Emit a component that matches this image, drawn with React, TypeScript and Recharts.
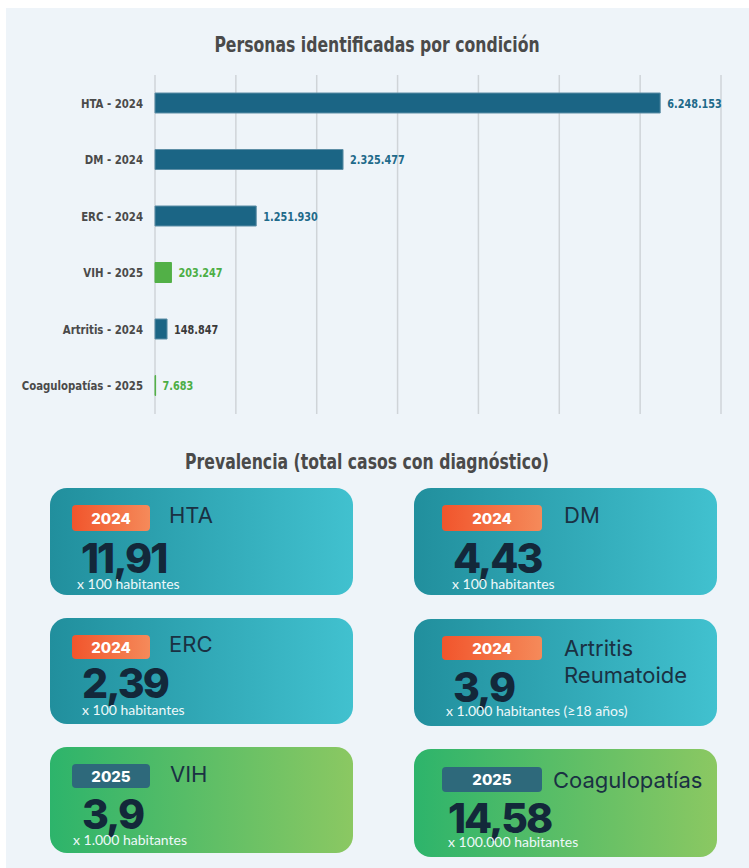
import React from 'react';
import { BarChart, Bar, XAxis, YAxis, CartesianGrid, Cell, LabelList } from 'recharts';

// personas identificadas por condición
const conditions = [
  'HTA - 2024',
  'DM - 2024',
  'ERC - 2024',
  'VIH - 2025',
  'Artritis - 2024',
  'Coagulopatías - 2025',
];
const personas = [6248153, 2325477, 1251930, 203247, 148847, 7683];
const xTicks = [0, 1000000, 2000000, 3000000, 4000000, 5000000, 6000000, 7000000];

// tarjetas de prevalencia
const cardTitles = [['HTA'], ['DM'], ['ERC'], ['Artritis', 'Reumatoide'], ['VIH'], ['Coagulopatías']];
const cardYears = ['2024', '2024', '2024', '2024', '2025', '2025'];
const cardValues = ['11,91', '4,43', '2,39', '3,9', '3,9', '14,58'];
const cardUnits = [
  'x 100 habitantes',
  'x 100 habitantes',
  'x 100 habitantes',
  'x 1.000 habitantes (≥18 años)',
  'x 1.000 habitantes',
  'x 100.000 habitantes',
];

const BLUE = '#1b6585';
const GREEN = '#52b047';
// no narrow font installed: squeeze DejaVu Condensed horizontally
const NARROW = '"DejaVu Sans Condensed", "DejaVu Sans", sans-serif';

const barColor = (name: string) => (name.endsWith('2025') ? GREEN : BLUE);
const barStroke = (name: string) => (name.endsWith('2025') ? GREEN : '#5d8ea6');
const labelColor = (name: string) =>
  name.startsWith('Artritis') ? '#3a3a3a' : name.endsWith('2025') ? '#4cae45' : '#1e6a8a';

const fmt = (n: number) => String(n).replace(/\B(?=(\d{3})+(?!\d))/g, '.');

const rows = conditions.map((name, i) => ({ name, value: personas[i] }));

const CARD_LAYOUT = [
  { x: 50, y: 488, h: 107, bx: 22, by: 17, bw: 78, bh: 26, tx: 119, ty: 35, nx: 31, ny: 85, ux: 27, uy: 101 },
  { x: 414, y: 488, h: 107, bx: 28, by: 17, bw: 100, bh: 26, tx: 150, ty: 35, nx: 39, ny: 85, ux: 38, uy: 101 },
  { x: 50, y: 618, h: 106, bx: 22, by: 17, bw: 78, bh: 24, tx: 119, ty: 34, nx: 32, ny: 80, ux: 32, uy: 97 },
  { x: 414, y: 619, h: 107, bx: 28, by: 17, bw: 100, bh: 24, tx: 150, ty: 37, nx: 39, ny: 83, ux: 32, uy: 97 },
  { x: 50, y: 747, h: 106, bx: 22, by: 17, bw: 78, bh: 24, tx: 120, ty: 35, nx: 32, ny: 82, ux: 23, uy: 98 },
  { x: 414, y: 749, h: 108, bx: 28, by: 18, bw: 100, bh: 25, tx: 139, ty: 39, nx: 34, ny: 84, ux: 34, uy: 98 },
];

function ValueLabel(props: any) {
  const { x, y, width, height, value } = props;
  const row = rows.find((r) => r.value === value);
  return (
    <g transform={`translate(${x + width + 7},${y + height / 2})`}>
      <text
        transform="scale(0.83,1)"
        dy={4.5}
        fill={labelColor(row ? row.name : '')}
        fontFamily={NARROW}
        fontWeight={700}
        fontSize={13}
      >
        {fmt(value)}
      </text>
    </g>
  );
}

function CategoryTick(props: any) {
  const { x, y, payload } = props;
  return (
    <g transform={`translate(${x},${y})`}>
      <text
        transform="scale(0.87,1)"
        textAnchor="end"
        dy={4.5}
        fill="#4a4a4a"
        fontFamily={NARROW}
        fontWeight={700}
        fontSize={13}
      >
        {payload.value}
      </text>
    </g>
  );
}

function Card({ i }: { i: number }) {
  const l = CARD_LAYOUT[i];
  const is25 = cardYears[i] === '2025';
  return (
    <g transform={`translate(${l.x},${l.y})`}>
      <rect width={303} height={l.h} rx={17} fill={is25 ? 'url(#gGreen)' : 'url(#gTeal)'} />
      <rect
        x={l.bx}
        y={l.by}
        width={l.bw}
        height={l.bh}
        rx={4}
        fill={is25 ? '#2e697b' : 'url(#gOrange)'}
      />
      <text
        x={l.bx + l.bw / 2}
        y={l.by + l.bh / 2 + 5.5}
        textAnchor="middle"
        fill="#fff"
        fontFamily="Inter, sans-serif"
        fontWeight={800}
        fontSize={15}
      >
        {cardYears[i]}
      </text>
      {cardTitles[i].map((t, k) => (
        <text
          key={t}
          x={l.tx}
          y={l.ty + k * 27}
          fill="#1a3143"
          fontFamily="Inter, sans-serif"
          fontSize={22}
        >
          {t}
        </text>
      ))}
      <text
        x={l.nx}
        y={l.ny}
        fill="#13283a"
        fontFamily="Inter, sans-serif"
        fontWeight={800}
        fontSize={41}
        letterSpacing={-2}
      >
        {cardValues[i]}
      </text>
      <text x={l.ux} y={l.uy} fill="#eef8fa" fontFamily="Lato, sans-serif" fontSize={14}>
        {cardUnits[i]}
      </text>
    </g>
  );
}

export default function App() {
  return (
    <div style={{ position: 'absolute', left: 0, top: 0, width: 749, height: 868, background: '#fff' }}>
      <div style={{ position: 'absolute', left: 6, top: 8, width: 743, height: 860, background: '#eef4f9' }} />
      <div style={{ position: 'absolute', left: 0, top: 0 }}>
        <BarChart
          width={749}
          height={430}
          data={rows}
          layout="vertical"
          margin={{ top: 75, right: 28, bottom: 16, left: 0 }}
        >
          <CartesianGrid horizontal={false} stroke="#cfd4d8" strokeWidth={1.5} />
          <XAxis type="number" domain={[0, 7000000]} ticks={xTicks} hide />
          <YAxis
            type="category"
            dataKey="name"
            width={155}
            axisLine={false}
            tickLine={false}
            tickMargin={6}
            tick={CategoryTick}
          />
          <Bar dataKey="value" barSize={20} isAnimationActive={false}>
            {rows.map((r) => (
              <Cell key={r.name} fill={barColor(r.name)} stroke={barStroke(r.name)} strokeWidth={1} />
            ))}
            <LabelList dataKey="value" content={ValueLabel} />
          </Bar>
        </BarChart>
      </div>
      <svg
        width={749}
        height={868}
        style={{ position: 'absolute', left: 0, top: 0, pointerEvents: 'none' }}
      >
        <defs>
          <linearGradient id="gTeal" x1="0" y1="0" x2="1" y2="0">
            <stop offset="0" stopColor="#218f9d" />
            <stop offset="1" stopColor="#41c1cf" />
          </linearGradient>
          <linearGradient id="gGreen" x1="0" y1="0" x2="1" y2="0">
            <stop offset="0" stopColor="#2db46b" />
            <stop offset="1" stopColor="#8bc862" />
          </linearGradient>
          <linearGradient id="gOrange" x1="0" y1="0" x2="1" y2="0">
            <stop offset="0" stopColor="#f1552c" />
            <stop offset="1" stopColor="#f58a5a" />
          </linearGradient>
        </defs>
        <g transform="translate(377,52)">
          <text
            transform="scale(0.83,1)"
            textAnchor="middle"
            fill="#4a4a4a"
            fontFamily={NARROW}
            fontWeight={700}
            fontSize={21}
          >
            Personas identificadas por condición
          </text>
        </g>
        <g transform="translate(367,469)">
          <text
            transform="scale(0.83,1)"
            textAnchor="middle"
            fill="#4a4a4a"
            fontFamily={NARROW}
            fontWeight={700}
            fontSize={21}
          >
            Prevalencia (total casos con diagnóstico)
          </text>
        </g>
        {cardValues.map((_, i) => (
          <Card key={i} i={i} />
        ))}
      </svg>
    </div>
  );
}
